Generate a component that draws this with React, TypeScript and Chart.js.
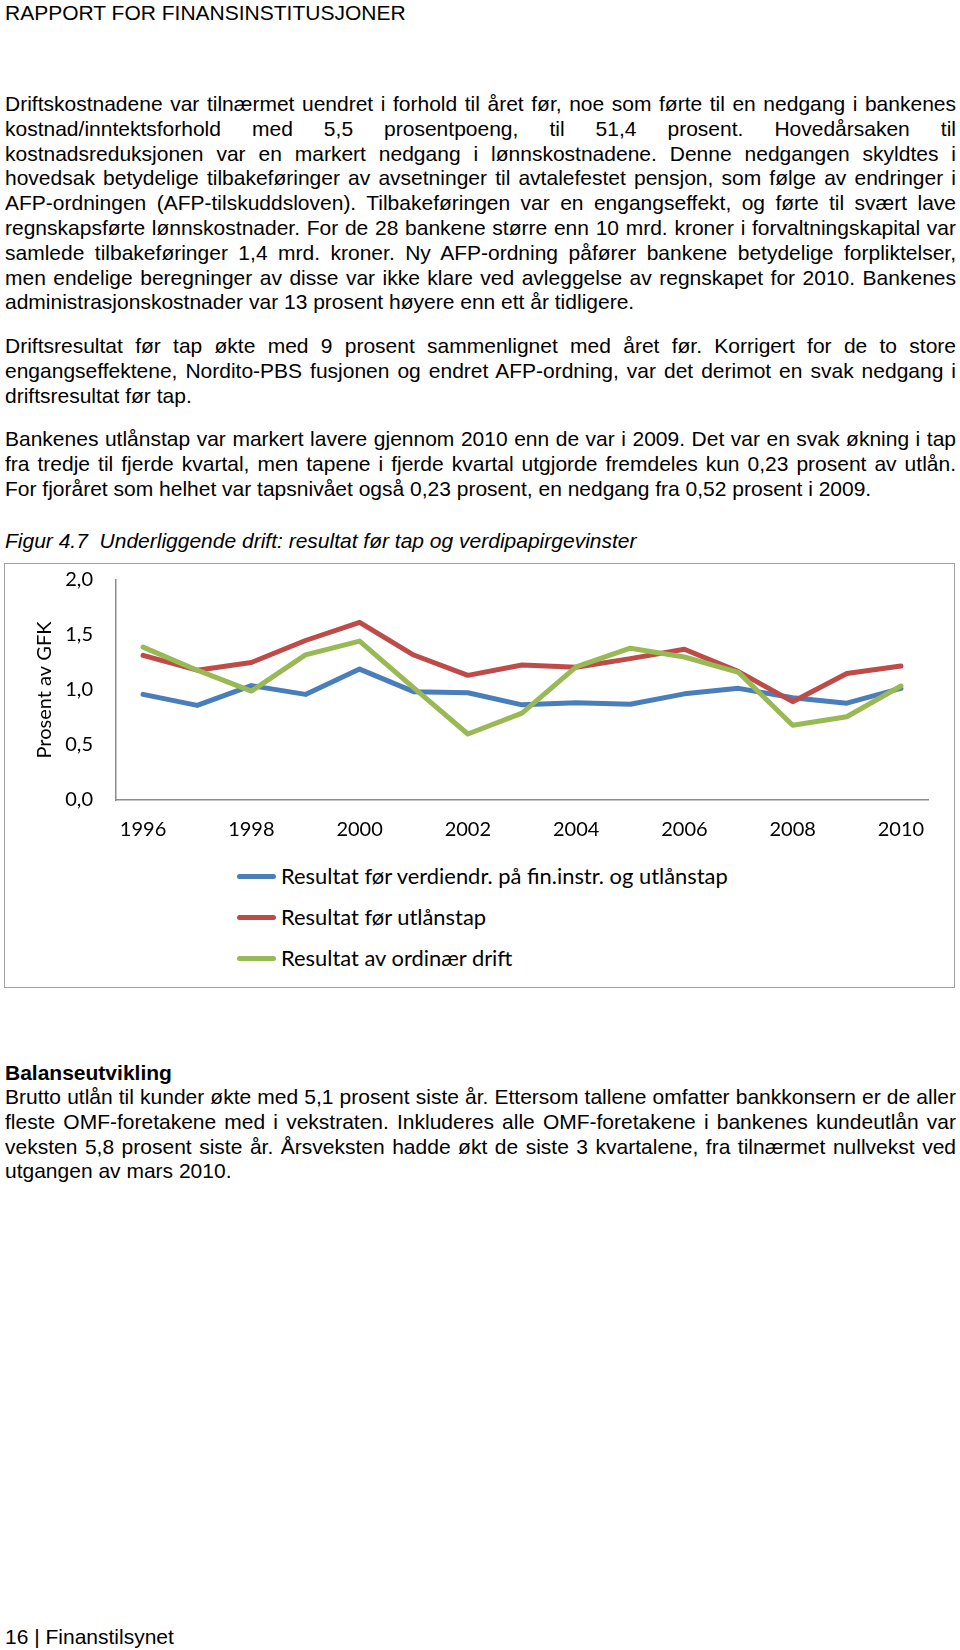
import React, { useEffect, useRef } from "react";
import { Chart, registerables } from "chart.js";

Chart.register(...registerables);

// ---------- Chart data ----------
const years = ["1996", "1997", "1998", "1999", "2000", "2001", "2002", "2003", "2004", "2005", "2006", "2007", "2008", "2009", "2010"];
const resultatForVerdiendr = [0.96, 0.86, 1.04, 0.96, 1.19, 0.985, 0.975, 0.865, 0.885, 0.87, 0.965, 1.015, 0.93, 0.88, 1.015];
const resultatForUtlanstap = [1.315, 1.18, 1.25, 1.45, 1.615, 1.318, 1.133, 1.227, 1.206, 1.285, 1.37, 1.167, 0.894, 1.15, 1.218];
const resultatOrdinaerDrift = [1.39, 1.18, 0.99, 1.32, 1.445, 1.02, 0.6, 0.79, 1.21, 1.38, 1.3, 1.16, 0.68, 0.757, 1.036];
const seriesLabels = [
  "Resultat før verdiendr. på fin.instr. og utlånstap",
  "Resultat før utlånstap",
  "Resultat av ordinær drift",
];
const seriesColors = ["#4A7EBB", "#BE4B48", "#98B954"];
const yTicks = [0, 0.5, 1, 1.5, 2];
const yTitle = "Prosent av GFK";

// ---------- Page text ----------
const header = "RAPPORT FOR FINANSINSTITUSJONER";
const para1 = [
  "Driftskostnadene var tilnærmet uendret i forhold til året før, noe som førte til en nedgang i bankenes",
  "kostnad/inntektsforhold med 5,5 prosentpoeng, til 51,4 prosent. Hovedårsaken til",
  "kostnadsreduksjonen var en markert nedgang i lønnskostnadene. Denne nedgangen skyldtes i",
  "hovedsak betydelige tilbakeføringer av avsetninger til avtalefestet pensjon, som følge av endringer i",
  "AFP-ordningen (AFP-tilskuddsloven). Tilbakeføringen var en engangseffekt, og førte til svært lave",
  "regnskapsførte lønnskostnader. For de 28 bankene større enn 10 mrd. kroner i forvaltningskapital var",
  "samlede tilbakeføringer 1,4 mrd. kroner. Ny AFP-ordning påfører bankene betydelige forpliktelser,",
  "men endelige beregninger av disse var ikke klare ved avleggelse av regnskapet for 2010. Bankenes",
  "administrasjonskostnader var 13 prosent høyere enn ett år tidligere.",
];
const para2 = [
  "Driftsresultat før tap økte med 9 prosent sammenlignet med året før. Korrigert for de to store",
  "engangseffektene, Nordito-PBS fusjonen og endret AFP-ordning, var det derimot en svak nedgang i",
  "driftsresultat før tap.",
];
const para3 = [
  "Bankenes utlånstap var markert lavere gjennom 2010 enn de var i 2009. Det var en svak økning i tap",
  "fra tredje til fjerde kvartal, men tapene i fjerde kvartal utgjorde fremdeles kun 0,23 prosent av utlån.",
  "For fjoråret som helhet var tapsnivået også 0,23 prosent, en nedgang fra 0,52 prosent i 2009.",
];
const caption = "Figur 4.7  Underliggende drift: resultat før tap og verdipapirgevinster";
const balanseTitle = "Balanseutvikling";
const para4 = [
  "Brutto utlån til kunder økte med 5,1 prosent siste år. Ettersom tallene omfatter bankkonsern er de aller",
  "fleste OMF-foretakene med i vekstraten. Inkluderes alle OMF-foretakene i bankenes kundeutlån var",
  "veksten 5,8 prosent siste år. Årsveksten hadde økt de siste 3 kvartalene, fra tilnærmet nullvekst ved",
  "utgangen av mars 2010.",
];
const footer = "16 | Finanstilsynet";

const BODY_FONT = "'Liberation Sans', Arial, sans-serif";
const CHART_FONT = "Lato, 'Open Sans', sans-serif";
const LH = 24.8;

function Para({ lines, top }: { lines: string[]; top: number }) {
  return (
    <div style={{ position: "absolute", left: 5, top, width: 951 }}>
      {lines.map((l, i) => {
        const last = i === lines.length - 1;
        return (
          <div
            key={i}
            style={{
              height: LH,
              lineHeight: `${LH}px`,
              whiteSpace: "nowrap",
              textAlign: last ? "left" : "justify",
              textAlignLast: last ? "left" : "justify",
            } as React.CSSProperties}
          >
            {l}
          </div>
        );
      })}
    </div>
  );
}

function LineChart() {
  const ref = useRef<HTMLCanvasElement>(null);
  useEffect(() => {
    const data = [resultatForVerdiendr, resultatForUtlanstap, resultatOrdinaerDrift];
    const chart = new Chart(ref.current!, {
      type: "line",
      data: {
        labels: years,
        datasets: data.map((d, i) => ({
          label: seriesLabels[i],
          data: d,
          borderColor: seriesColors[i],
          backgroundColor: seriesColors[i],
          borderWidth: 5,
          pointRadius: 0,
          tension: 0,
          borderJoinStyle: "round" as const,
          borderCapStyle: "round" as const,
          order: 2 - i,
        })),
      },
      options: {
        animation: false,
        responsive: false,
        maintainAspectRatio: false,
        layout: { autoPadding: false, padding: { top: 16, right: 27, left: 0, bottom: 0 } },
        plugins: { legend: { display: false }, tooltip: { enabled: false } },
        scales: {
          x: {
            type: "category",
            offset: true,
            grid: { display: false, drawTicks: false },
            border: { display: true, color: "#8c8c8c", width: 1.5 },
            ticks: {
              autoSkip: false,
              maxRotation: 0,
              padding: 18,
              color: "#000",
              font: { family: CHART_FONT, size: 20 },
              callback: (_v: any, i: number) => (i % 2 === 0 ? years[i] : ""),
            },
            afterFit: (s: any) => {
              s.height = 54;
            },
          },
          y: {
            min: yTicks[0],
            max: yTicks[yTicks.length - 1],
            afterBuildTicks: (s: any) => {
              s.ticks = yTicks.map((v) => ({ value: v }));
            },
            grid: { display: false, drawTicks: true, tickLength: 23 },
            border: { display: true, color: "#8c8c8c", width: 1.5 },
            ticks: {
              padding: 0,
              color: "#000",
              font: { family: CHART_FONT, size: 20 },
              callback: (v: any) => Number(v).toFixed(1).replace(".", ","),
            },
            title: {
              display: true,
              text: yTitle,
              color: "#000",
              font: { family: CHART_FONT, size: 20 },
              padding: { top: 28, bottom: 0 },
            },
            afterFit: (s: any) => {
              s.width = 111;
            },
          },
        },
      },
    });
    return () => chart.destroy();
  }, []);
  return (
    <canvas
      ref={ref}
      width={950}
      height={290}
      style={{ position: "absolute", left: 0, top: 0, width: 950, height: 290 }}
    />
  );
}

function Legend() {
  const rows = [876, 917, 958];
  return (
    <>
      {seriesLabels.map((l, i) => (
        <div key={i} style={{ position: "absolute", left: 0, top: rows[i] - 564 - 14, height: 28, width: 900 }}>
          <div
            style={{
              position: "absolute",
              left: 232,
              top: 11.5,
              width: 39,
              height: 5,
              borderRadius: 2.5,
              background: seriesColors[i],
            }}
          />
          <div
            style={{
              position: "absolute",
              left: 276,
              top: 0,
              lineHeight: "28px",
              fontFamily: CHART_FONT,
              fontSize: 21.9,
              color: "#000",
              whiteSpace: "nowrap",
            }}
          >
            {l}
          </div>
        </div>
      ))}
    </>
  );
}

export default function App() {
  return (
    <div
      style={{
        position: "relative",
        width: 960,
        height: 1650,
        background: "#fff",
        fontFamily: BODY_FONT,
        fontSize: 21,
        color: "#000",
        overflow: "hidden",
      }}
    >
      <style>{`body{margin:0;background:#fff}`}</style>
      <div style={{ position: "absolute", left: 5, top: 0, lineHeight: "25px", whiteSpace: "nowrap" }}>{header}</div>
      <Para lines={para1} top={105 - 13} />
      <Para lines={para2} top={347.4 - 13} />
      <Para lines={para3} top={440 - 13} />
      <div
        style={{
          position: "absolute",
          left: 5,
          top: 542 - 13,
          lineHeight: `${LH}px`,
          fontStyle: "italic",
          whiteSpace: "pre",
        }}
      >
        {caption}
      </div>
      <div
        style={{
          position: "absolute",
          left: 4,
          top: 563,
          width: 951,
          height: 425,
          border: "1.5px solid #a0a0a0",
          boxSizing: "border-box",
        }}
      />
      <div style={{ position: "absolute", left: 5, top: 564, width: 950, height: 422 }}>
        <LineChart />
        <Legend />
      </div>
      <div style={{ position: "absolute", left: 5, top: 1074 - 13, lineHeight: `${LH}px`, fontWeight: "bold" }}>
        {balanseTitle}
      </div>
      <Para lines={para4} top={1098 - 13} />
      <div style={{ position: "absolute", left: 5, top: 1638 - 13, lineHeight: `${LH}px`, whiteSpace: "nowrap" }}>{footer}</div>
    </div>
  );
}
